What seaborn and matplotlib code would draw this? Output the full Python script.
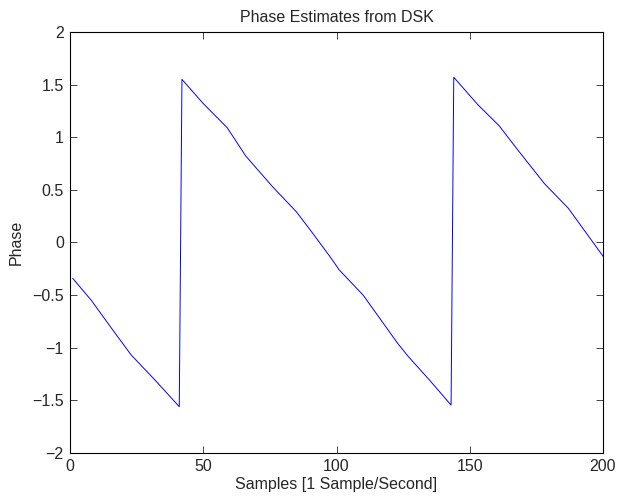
import numpy as np
import pandas as pd
import matplotlib
matplotlib.use("Agg")
import matplotlib.pyplot as plt
import seaborn as sns

# phase estimates
samples = [1, 8, 16, 23, 32, 41, 42, 50, 59, 66, 76, 85, 91, 98, 101, 110,
           123, 127, 135, 143, 144, 153, 161, 168, 178, 187, 200]
phase = [-0.34, -0.55, -0.83, -1.07, -1.31, -1.56, 1.55, 1.32, 1.09, 0.82,
         0.53, 0.29, 0.09, -0.15, -0.26, -0.50, -0.96, -1.085, -1.31, -1.545,
         1.57, 1.31, 1.11, 0.88, 0.56, 0.325, -0.13]
xticks = [0, 50, 100, 150, 200]
yticks = [-2, -1.5, -1, -0.5, 0, 0.5, 1, 1.5, 2]

df = pd.DataFrame({"Samples": samples, "Phase": phase})

sns.set_style("ticks")
plt.rcParams["font.family"] = ["Liberation Sans", "DejaVu Sans"]

fig = plt.figure(figsize=(6.18, 4.99), dpi=100)
ax = fig.add_axes([0.1133, 0.0922, 0.8624, 0.8437])

sns.lineplot(data=df, x="Samples", y="Phase", color="#0000ff", linewidth=0.7,
             ax=ax, sort=False, estimator=None)

fs = 11.5
ax.set_xlim(0, 200)
ax.set_ylim(-2, 2)
ax.set_xticks(xticks)
ax.set_yticks(yticks)
ax.set_yticklabels(["\u22122", "\u22121.5", "\u22121", "\u22120.5", "0", "0.5", "1", "1.5", "2"])
ax.tick_params(direction="in", length=5, width=0.6, top=True, right=True,
               labelsize=fs, pad=4.5)
for s in ax.spines.values():
    s.set_linewidth(0.8)
    s.set_color("black")

ax.set_title("Phase Estimates from DSK", fontsize=fs, pad=7)
ax.set_xlabel("Samples [1 Sample/Second]", fontsize=fs, labelpad=2)
ax.set_ylabel("Phase", fontsize=fs, labelpad=6)

fig.savefig("out.png", dpi=100, facecolor="white")
